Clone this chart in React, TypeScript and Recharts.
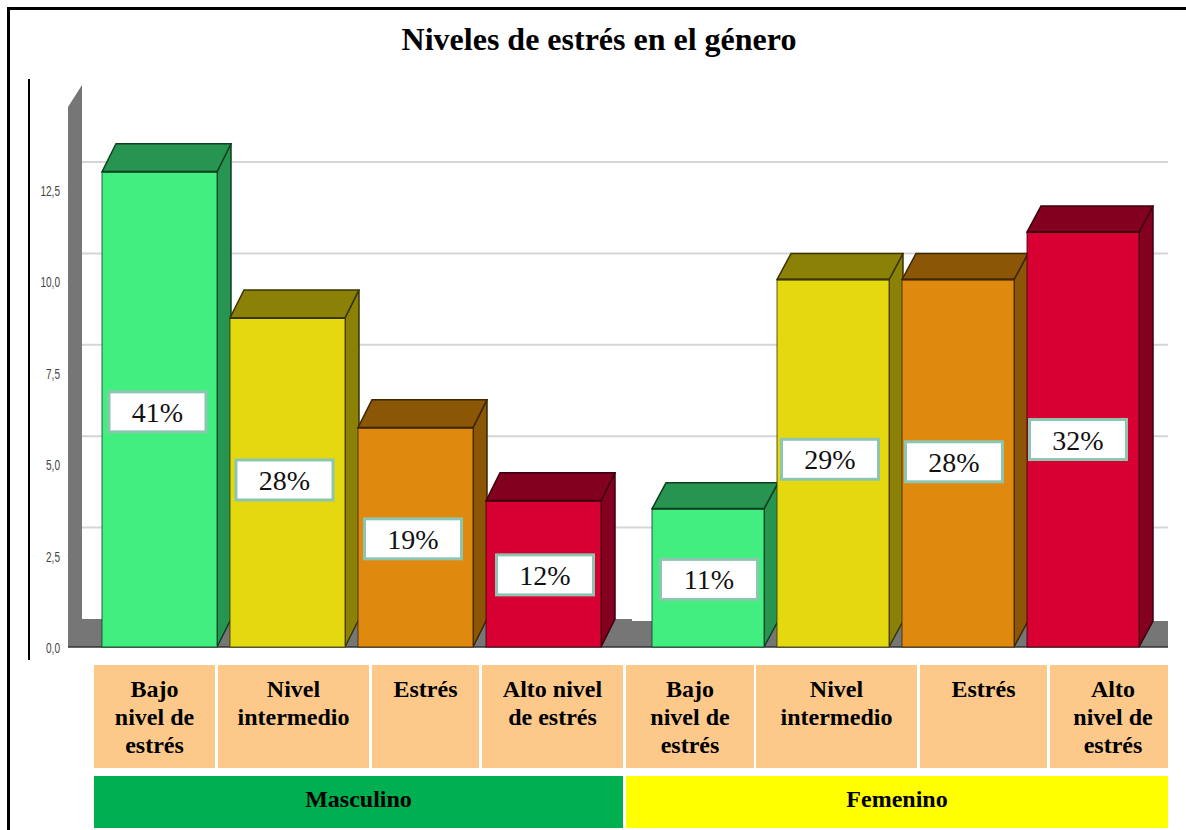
import React from "react";
import { BarChart, Bar, XAxis, YAxis, CartesianGrid, LabelList } from "recharts";

const categoriesMasculino = ["Bajo\nnivel de\nestrés", "Nivel\nintermedio", "Estrés", "Alto nivel\nde estrés"];
const categoriesFemenino = ["Bajo\nnivel de\nestrés", "Nivel\nintermedio", "Estrés", "Alto\nnivel de\nestrés"];
const valuesMasculino = [13, 9, 6, 4];
const valuesFemenino = [3.78, 10.05, 10.05, 11.35];
const percentMasculino = ["41%", "28%", "19%", "12%"];
const percentFemenino = ["11%", "29%", "28%", "32%"];
const yTicks = [0, 2.5, 5, 7.5, 10, 12.5];
const groups = ["Masculino", "Femenino"];

const frontColors = ["#42EE7F", "#E4D90F", "#E0890F", "#D80032"];
const darkColors = ["#289451", "#8A8106", "#8B5707", "#84001F"];
const strokeColors = ["#0E3F20", "#3A3602", "#3D2602", "#3A000E"];

const DX = 14;
const DY = 28;
const TOP = 107;
const BOTTOM = 647;
const CHART_H = 660;
const Y_MAX = 14.77;
const GREY = "#767676";
const SERIF = "'Liberation Serif', 'Times New Roman', serif";

const cellEdges = [[94, 215], [218, 369], [372, 479], [482, 623], [626, 754], [756, 917], [920, 1047], [1050, 1168]];
const groupEdges = [[94, 623], [626, 1168]];
const groupColors = ["#00AF50", "#FFFF00"];
const labelNudgeMasculino = [[-2, 2.5], [-3, -2.5], [-2.5, 1.5], [1.5, 1]];
const labelNudgeFemenino = [[1, 1.5], [-3, -4], [-4, -1.5], [-5, 0]];

const toRows = (cats: string[], vals: number[], pct: string[]) =>
  cats.map((c, i) => ({ category: c, value: vals[i], percent: pct[i] }));

function Box3D(p: any) {
  const { x, y, width: w, height: h, index, depthY } = p;
  const front = frontColors[index];
  const dark = darkColors[index];
  const line = strokeColors[index];
  return (
    <g>
      <polygon
        points={`${x + w},${y} ${x + w + DX},${y - depthY} ${x + w + DX},${y + h - depthY} ${x + w},${y + h}`}
        fill={dark}
        stroke={line}
        strokeWidth={1.5}
      />
      <polygon
        points={`${x},${y} ${x + DX},${y - depthY} ${x + w + DX},${y - depthY} ${x + w},${y}`}
        fill={dark}
        stroke={line}
        strokeWidth={1.5}
      />
      <rect x={x} y={y} width={w} height={h} fill={front} stroke={line} strokeOpacity={0.55} strokeWidth={1.5} />
      <line x1={x} y1={y} x2={x + w} y2={y} stroke={line} strokeWidth={2} />
    </g>
  );
}

function PercentBox(p: any) {
  const { x, y, width, height, value, index, nudge } = p;
  const [dx, dy] = nudge[index];
  const cx = x + width / 2 + dx;
  const cy = y + height / 2 + dy;
  return (
    <g>
      <rect x={cx - 48.5} y={cy - 20} width={97} height={40} fill="#FFFFFF" stroke="#8CC6B0" strokeWidth={3} />
      <text x={cx} y={cy + 10} textAnchor="middle" fontFamily={SERIF} fontSize={28} fill="#111">
        {value}
      </text>
    </g>
  );
}

function NarrowTick(p: any) {
  const { x, y, payload } = p;
  return (
    <text
      transform={`translate(${x},${y + 6}) scale(0.72,1.05)`}
      textAnchor="end"
      fontSize={14}
      fontFamily="'Liberation Sans', sans-serif"
      fill="#444"
    >
      {Number(payload.value).toFixed(1).replace(".", ",")}
    </text>
  );
}

const gridLine = (slant: boolean) => (p: any) => {
  const { x1, x2, y1, key } = p;
  if (y1 >= BOTTOM - 1 || y1 <= TOP + 1) return <g key={key} />;
  return (
    <g key={key} fill="none" stroke="#D5D5D5" strokeWidth={2}>
      {slant && <line x1={x1} y1={y1} x2={x1 + DX} y2={y1 - DY} stroke="#B0B0B0" strokeWidth={1} />}
      <line x1={slant ? x1 + DX : x1} y1={y1 - DY} x2={x2} y2={y1 - DY} />
    </g>
  );
};

export default function App() {
  const rowsM = toRows(categoriesMasculino, valuesMasculino, percentMasculino);
  const rowsF = toRows(categoriesFemenino, valuesFemenino, percentFemenino);
  const allCats = [...categoriesMasculino, ...categoriesFemenino];

  return (
    <div style={{ position: "absolute", left: 0, top: 0, width: 1186, height: 830, background: "#fff", overflow: "hidden" }}>
      <div style={{ position: "absolute", left: 7, top: 7, width: 3, height: 823, background: "#000" }} />
      <div style={{ position: "absolute", left: 7, top: 7, width: 1179, height: 3, background: "#000" }} />
      <div style={{ position: "absolute", left: 28, top: 79, width: 2, height: 581, background: "#000" }} />
      <div
        style={{
          position: "absolute",
          left: 0,
          width: 1198,
          top: 21,
          textAlign: "center",
          fontFamily: SERIF,
          fontWeight: 700,
          fontSize: 32,
          lineHeight: "37px",
          color: "#000",
        }}
      >
        Niveles de estrés en el género
      </div>

      <div style={{ position: "absolute", left: 0, top: 0 }}>
        <BarChart
          width={632}
          height={CHART_H}
          data={rowsM}
          margin={{ top: TOP, bottom: CHART_H - BOTTOM, left: 28, right: 0 }}
          barCategoryGap={6.5}
        >
          <polygon
            points={`68,${TOP} 82,85 82,${BOTTOM - DY} 632,${BOTTOM - DY} 632,${BOTTOM} 68,${BOTTOM}`}
            fill={GREY}
          />
          <line x1={68} y1={BOTTOM} x2={632} y2={BOTTOM} stroke="#333" strokeWidth={1.5} />
          <CartesianGrid vertical={false} horizontal={gridLine(true)} />
          <XAxis dataKey="category" hide padding={{ left: 27.5, right: 24.5 }} />
          <YAxis
            width={40}
            domain={[0, Y_MAX]}
            ticks={yTicks}
            tickLine={false}
            axisLine={false}
            interval={0}
            tick={(p: any) => <NarrowTick {...p} />}
          />
          <Bar dataKey="value" isAnimationActive={false} shape={(p: any) => <Box3D {...p} depthY={28} />}>
            <LabelList dataKey="percent" content={(p: any) => <PercentBox {...p} nudge={labelNudgeMasculino} />} />
          </Bar>
        </BarChart>
      </div>

      <div style={{ position: "absolute", left: 632, top: 0 }}>
        <BarChart
          width={536}
          height={CHART_H}
          data={rowsF}
          margin={{ top: TOP, bottom: CHART_H - BOTTOM, left: 0, right: 0 }}
          barCategoryGap={6.5}
        >
          <rect x={0} y={BOTTOM - DY + 2} width={536} height={DY - 2} fill={GREY} />
          <line x1={0} y1={BOTTOM} x2={536} y2={BOTTOM} stroke="#333" strokeWidth={1.5} />
          <CartesianGrid vertical={false} horizontal={gridLine(false)} />
          <XAxis dataKey="category" hide padding={{ left: 13.5, right: 22.5 }} />
          <YAxis hide domain={[0, Y_MAX]} ticks={yTicks} />
          <Bar dataKey="value" isAnimationActive={false} shape={(p: any) => <Box3D {...p} depthY={26} />}>
            <LabelList dataKey="percent" content={(p: any) => <PercentBox {...p} nudge={labelNudgeFemenino} />} />
          </Bar>
        </BarChart>
      </div>

      {allCats.map((c, i) => {
        const [a, b] = cellEdges[i];
        return (
          <div
            key={i}
            style={{
              position: "absolute",
              left: a,
              top: 665,
              width: b - a,
              height: 103,
              boxSizing: "border-box",
              paddingTop: 10,
              paddingLeft: i === 7 ? 8 : 0,
              background: "#FCC98B",
              textAlign: "center",
              whiteSpace: "pre-line",
              fontFamily: SERIF,
              fontWeight: 700,
              fontSize: 24,
              lineHeight: "28px",
              color: "#000",
            }}
          >
            {c}
          </div>
        );
      })}
      {groups.map((g, i) => {
        const [a, b] = groupEdges[i];
        return (
          <div
            key={g}
            style={{
              position: "absolute",
              left: a,
              top: 776,
              width: b - a,
              height: 52,
              background: groupColors[i],
              textAlign: "center",
              fontFamily: SERIF,
              fontWeight: 700,
              fontSize: 24,
              lineHeight: "47px",
              color: "#000",
            }}
          >
            {g}
          </div>
        );
      })}
    </div>
  );
}
